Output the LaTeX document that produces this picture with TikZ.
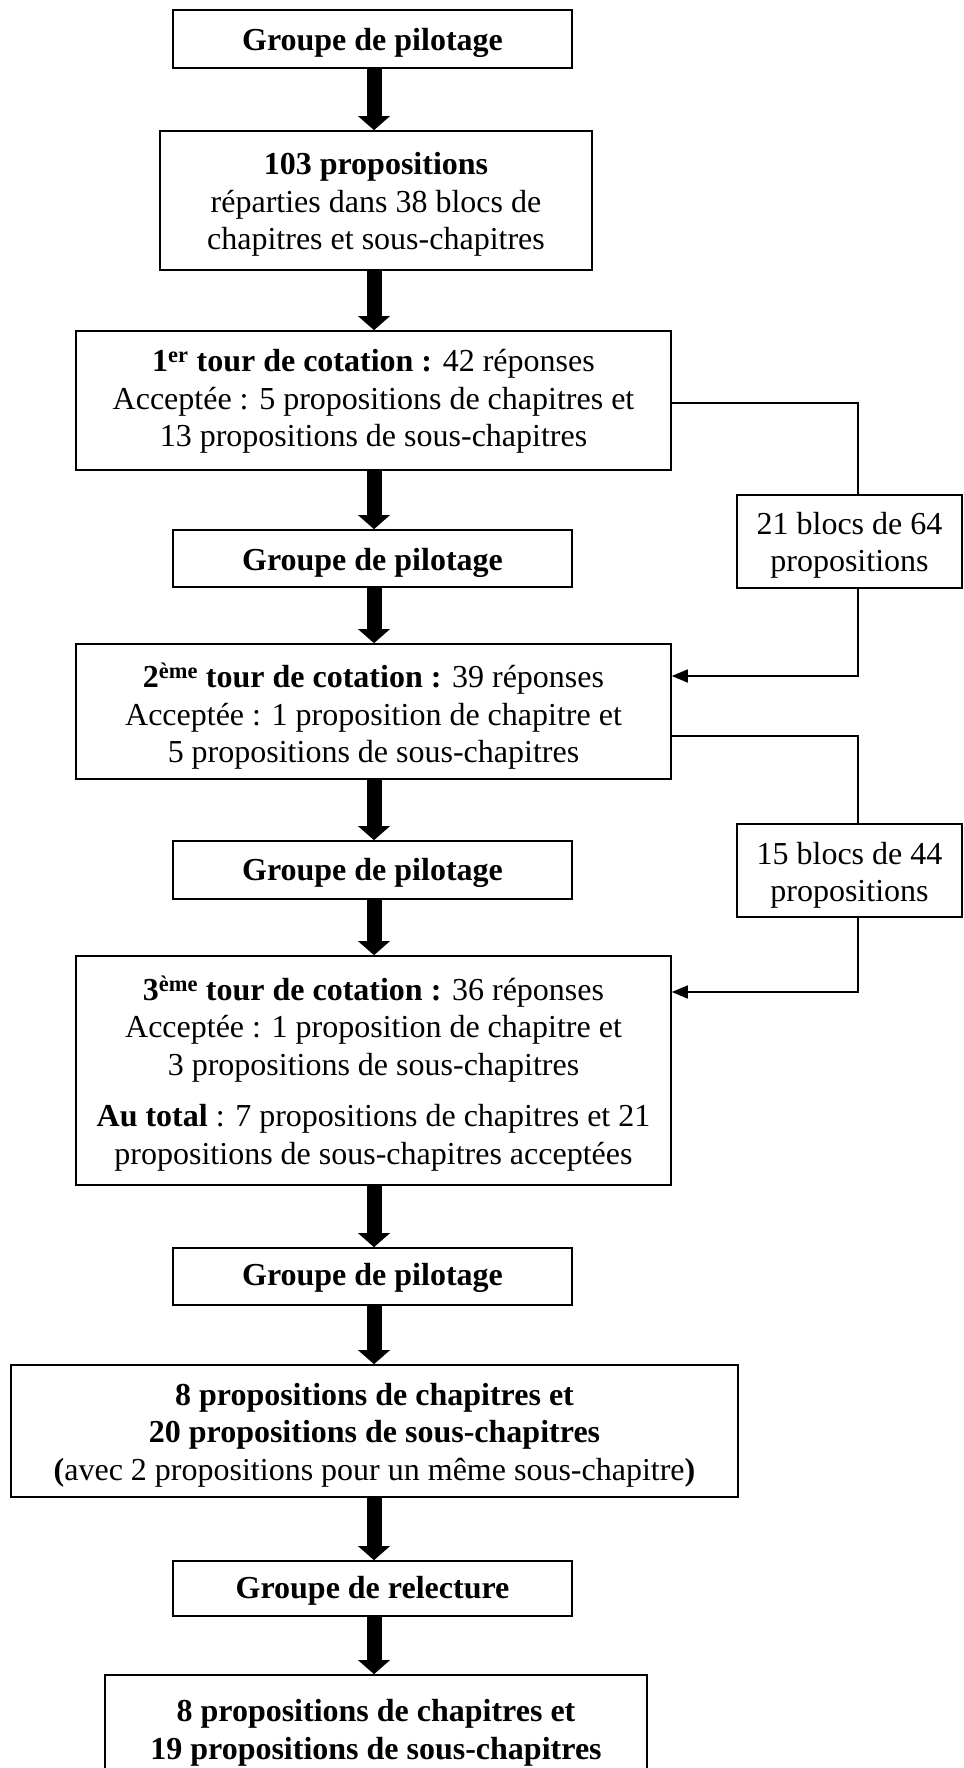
\documentclass[tikz,border=0pt]{standalone}
\usepackage{fontspec}
\setmainfont{Liberation Serif}
\usetikzlibrary{arrows.meta}
\begin{document}
\begin{tikzpicture}[x=1pt,y=-1pt,
  box/.style={draw, line width=1.6pt, inner sep=0pt},
  txt/.style={align=center, inner sep=0pt, font=\fontsize{32}{37.5}\selectfont},
  big/.style={line width=15pt, -{Triangle[length=14pt,width=31pt]}},
  thinline/.style={line width=1.6pt},
  thinarrow/.style={line width=1.6pt, -{Triangle[length=16pt,width=13pt]}}]
\useasboundingbox (0,0) rectangle (963,1768);
\clip (0,0) rectangle (963,1768);
\fill[white] (0,0) rectangle (963,1768);

% boxes
\node[box, minimum width=399pt, minimum height=58pt] (b1) at (372.5,39) {};
\node[box, minimum width=432pt, minimum height=139pt] (b2) at (376,200.5) {};
\node[box, minimum width=595pt, minimum height=139pt] (b3) at (373.5,400.5) {};
\node[box, minimum width=399pt, minimum height=57pt] (b4) at (372.5,558.5) {};
\node[box, minimum width=595pt, minimum height=135pt] (b5) at (373.5,711.5) {};
\node[box, minimum width=399pt, minimum height=58pt] (b6) at (372.5,870) {};
\node[box, minimum width=595pt, minimum height=229pt] (b7) at (373.5,1070.5) {};
\node[box, minimum width=399pt, minimum height=57pt] (b8) at (372.5,1276.5) {};
\node[box, minimum width=727pt, minimum height=132pt] (b9) at (374.5,1431) {};
\node[box, minimum width=399pt, minimum height=55pt] (b10) at (372.5,1588.5) {};
\node[box, minimum width=542pt, minimum height=108pt] (b11) at (376,1729) {};
\node[box, minimum width=225pt, minimum height=93pt] (s1) at (849.5,541.5) {};
\node[box, minimum width=225pt, minimum height=93pt] (s2) at (849.5,870.5) {};

% texts
\node[txt] (t1) at ([yshift=-4pt]b1.center) {\textbf{Groupe de pilotage}};
\node[txt] (t2) at ([yshift=-4pt]b2.center)
  {\textbf{103 propositions}\\réparties dans 38 blocs de\\chapitres et sous-chapitres};
\node[txt] (t3) at ([yshift=-1pt]b3.center)
  {\textbf{1\textsuperscript{er} tour de cotation :} 42 réponses\\Acceptée : 5 propositions de chapitres et\\13 propositions de sous-chapitres};
\node[txt] (t4) at ([yshift=-4pt]b4.center) {\textbf{Groupe de pilotage}};
\node[txt] (t5) at ([yshift=-5pt]b5.center)
  {\textbf{2\textsuperscript{ème} tour de cotation :} 39 réponses\\Acceptée : 1 proposition de chapitre et\\5 propositions de sous-chapitres};
\node[txt] (t6) at ([yshift=-3pt]b6.center) {\textbf{Groupe de pilotage}};
\node[txt] (t7) at ([yshift=-3pt]b7.center)
  {\textbf{3\textsuperscript{ème} tour de cotation :} 36 réponses\\Acceptée : 1 proposition de chapitre et\\3 propositions de sous-chapitres\\[14pt]\textbf{Au total} : 7 propositions de chapitres et 21\\propositions de sous-chapitres acceptées};
\node[txt] (t8) at ([yshift=-1pt]b8.center) {\textbf{Groupe de pilotage}};
\node[txt] (t9) at ([yshift=-4pt]b9.center)
  {\textbf{8 propositions de chapitres et}\\\textbf{20 propositions de sous-chapitres}\\\textbf{(}avec 2 propositions pour un même sous-chapitre\textbf{)}};
\node[txt] (t10) at ([yshift=-2pt]b10.center) {\textbf{Groupe de relecture}};
\node[txt] (t11) at ([yshift=-4pt]b11.center)
  {\textbf{8 propositions de chapitres et}\\\textbf{19 propositions de sous-chapitres}};
\node[txt] (u1) at ([yshift=-4pt]s1.center) {21 blocs de 64\\propositions};
\node[txt] (u2) at ([yshift=-5pt]s2.center) {15 blocs de 44\\propositions};

% main flow
\coordinate (cx) at (374,0);
\draw[big] (b1.south -| cx) -- (b2.north -| cx);
\draw[big] (b2.south -| cx) -- (b3.north -| cx);
\draw[big] (b3.south -| cx) -- (b4.north -| cx);
\draw[big] (b4.south -| cx) -- (b5.north -| cx);
\draw[big] (b5.south -| cx) -- (b6.north -| cx);
\draw[big] (b6.south -| cx) -- (b7.north -| cx);
\draw[big] (b7.south -| cx) -- (b8.north -| cx);
\draw[big] (b8.south -| cx) -- (b9.north -| cx);
\draw[big] (b9.south -| cx) -- (b10.north -| cx);
\draw[big] (b10.south -| cx) -- (b11.north -| cx);

% side loops
\coordinate (r1) at (857.7,402.7);
\coordinate (r2) at (857.7,676);
\coordinate (r3) at (857.7,736);
\coordinate (r4) at (857.7,992);
\draw[thinline] (b3.east |- r1) -- (r1) -- (s1.north -| r1);
\draw[thinarrow] (s1.south -| r2) -- (r2) -- (b5.east |- r2);
\draw[thinline] (b5.east |- r3) -- (r3) -- (s2.north -| r3);
\draw[thinarrow] (s2.south -| r4) -- (r4) -- (b7.east |- r4);
\end{tikzpicture}
\end{document}
